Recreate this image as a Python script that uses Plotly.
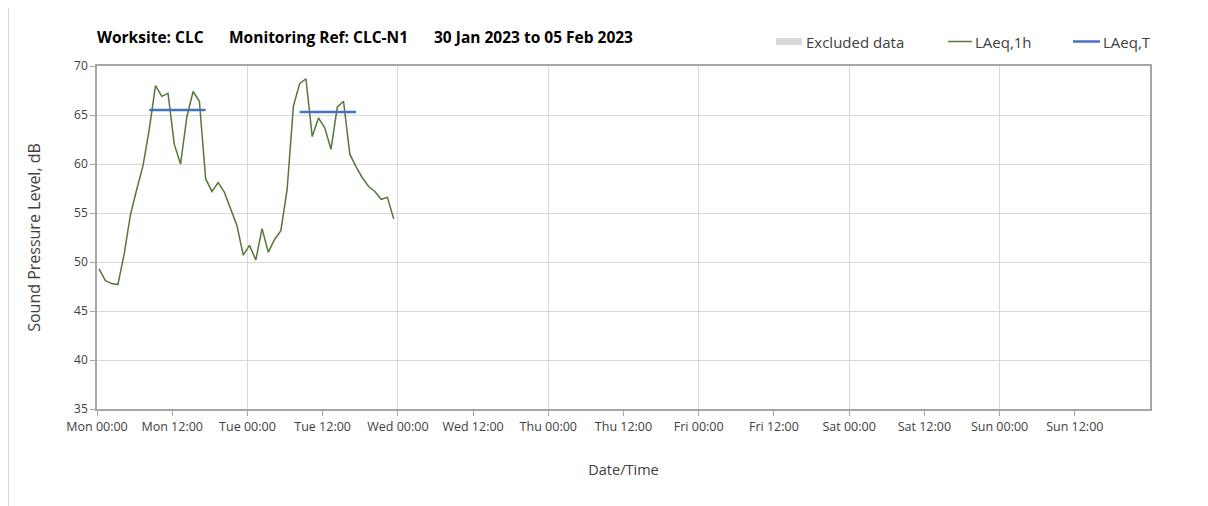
import pandas as pd
import plotly.graph_objects as go

# ---- data ----
laeq_1h = [49.3, 48.1, 47.8, 47.7, 50.8, 54.8, 57.4, 59.8, 63.5, 68.0, 66.9, 67.2,
           62.0, 60.0, 64.8, 67.4, 66.4, 58.5, 57.2, 58.1, 57.1, 55.3, 53.7, 50.7,
           51.7, 50.2, 53.4, 51.0, 52.3, 53.2, 57.4, 65.9, 68.2, 68.7, 62.8, 64.7,
           63.7, 61.5, 65.8, 66.4, 61.0, 59.7, 58.6, 57.7, 57.2, 56.4, 56.6, 54.4]
times_1h = pd.date_range("2023-01-30 00:20", periods=len(laeq_1h), freq="h")

laeq_t_start = ["2023-01-30 08:20", "2023-01-31 08:20"]
laeq_t_end = ["2023-01-30 17:20", "2023-01-31 17:20"]
laeq_t_values = [65.5, 65.3]

tick_labels = ["Mon 00:00", "Mon 12:00", "Tue 00:00", "Tue 12:00", "Wed 00:00", "Wed 12:00",
               "Thu 00:00", "Thu 12:00", "Fri 00:00", "Fri 12:00", "Sat 00:00", "Sat 12:00",
               "Sun 00:00", "Sun 12:00"]
tick_vals = pd.date_range("2023-01-30 00:00", periods=len(tick_labels), freq="12h")

title_parts = ["Worksite: CLC", "Monitoring Ref: CLC-N1", "30 Jan 2023 to 05 Feb 2023"]
legend_labels = ["Excluded data", "LAeq,1h", "LAeq,T"]

FONT = "Open Sans"
GREEN = "#55783a"
BLUE = "#4472C4"
GREY_BOX = "#d9d9d9"

fig = go.Figure()
fig.add_trace(go.Scatter(x=times_1h, y=laeq_1h, mode="lines", name=legend_labels[1],
                         line=dict(color=GREEN, width=1.5), showlegend=False))
for xs, xe, v in zip(laeq_t_start, laeq_t_end, laeq_t_values):
    fig.add_trace(go.Scatter(x=[xs, xe], y=[v, v], mode="lines", name=legend_labels[2],
                             line=dict(color=BLUE, width=2.5), showlegend=False))

# page body has an 8px margin: figure is 1200x498 placed at (8,8)
OFF = 8
W, H = 1200, 498
L, R, T, B = 97 - OFF, 58, 66 - OFF, 97
pw, ph = W - L - R, H - T - B


def px(x):  # screen pixel -> paper x
    return (x - OFF - L) / pw


def py(y):  # screen pixel -> paper y
    return (H - B - (y - OFF)) / ph


# title pieces
for txt, x0 in zip(title_parts, [95, 227, 432]):
    fig.add_annotation(text="<b>%s</b>" % txt, x=px(x0), y=py(37), xref="paper", yref="paper",
                       xanchor="left", yanchor="middle", showarrow=False,
                       font=dict(family=FONT, size=15.5, color="#000000"))

# manual legend
fig.add_shape(type="rect", xref="paper", yref="paper", x0=px(776), x1=px(802), y0=py(45), y1=py(38),
              fillcolor=GREY_BOX, line=dict(width=0))
fig.add_shape(type="line", xref="paper", yref="paper", x0=px(948), x1=px(972), y0=py(41.5), y1=py(41.5),
              line=dict(color=GREEN, width=1.5))
fig.add_shape(type="line", xref="paper", yref="paper", x0=px(1073), x1=px(1100), y0=py(41.5), y1=py(41.5),
              line=dict(color=BLUE, width=2.5))
for txt, x0 in zip(legend_labels, [804, 973, 1101]):
    fig.add_annotation(text=txt, x=px(x0), y=py(42), xref="paper", yref="paper",
                       xanchor="left", yanchor="middle", showarrow=False,
                       font=dict(family=FONT, size=15, color="#404040"))

# outer chart border (left/right)
for xb in [8.5, 1206.5]:
    fig.add_shape(type="line", xref="paper", yref="paper", x0=px(xb), x1=px(xb), y0=-0.5, y1=1.5,
                  line=dict(color="#d9d9d9", width=1))

fig.update_layout(
    width=W, height=H,
    margin=dict(l=L, r=R, t=T, b=B),
    paper_bgcolor="white", plot_bgcolor="white",
    font=dict(family=FONT, size=11, color="#595959"),
    showlegend=False,
)
fig.update_xaxes(
    range=["2023-01-30 00:00", "2023-02-06 00:00"],
    tickmode="array", tickvals=tick_vals, ticktext=tick_labels,
    showgrid=False, ticks="outside", ticklen=5, tickcolor="#a6a6a6",
    tickfont=dict(family=FONT, size=12.5, color="#404040"),
    minor=dict(dtick=86400000, tick0="2023-01-30", showgrid=True, gridcolor="#d9d9d9", gridwidth=1),
    showline=True, linecolor="#a6a6a6", linewidth=1.5, mirror=True,
    title=dict(text="Date/Time", font=dict(family=FONT, size=14.5, color="#404040"), standoff=31),
    zeroline=False,
)
fig.update_yaxes(
    range=[35, 70], dtick=5, tick0=35,
    showgrid=True, gridcolor="#d9d9d9", gridwidth=1,
    ticks="outside", ticklen=5, tickcolor="#a6a6a6",
    tickfont=dict(family=FONT, size=12, color="#404040"),
    showline=True, linecolor="#a6a6a6", linewidth=1.5, mirror=True,
    title=dict(text="Sound Pressure Level, dB", font=dict(family=FONT, size=16, color="#404040"), standoff=30),
    zeroline=False,
)

fig.write_html("out.html")
